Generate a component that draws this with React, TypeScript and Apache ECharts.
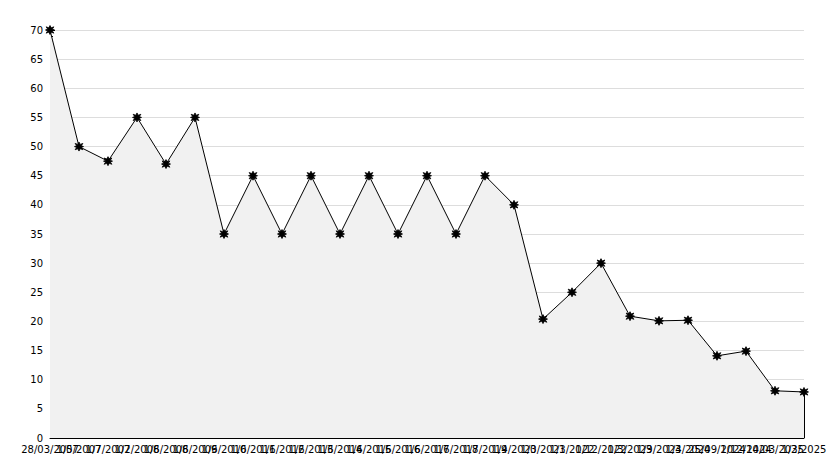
import React, { useEffect, useRef } from "react";
import * as echarts from "echarts";

const categories = [
  "28/03/2007", "1/5/2007", "1/7/2007", "1/2/2008", "1/6/2008", "1/6/2009",
  "1/6/2010", "1/6/2011", "1/6/2012", "1/6/2013", "1/6/2014", "1/6/2015",
  "1/6/2016", "1/6/2017", "1/6/2018", "1/7/2019", "1/4/2020", "1/3/2021",
  "1/3/2022", "1/12/2022", "1/3/2023", "1/9/2023", "1/4/2024", "25/09/2024",
  "1/12/2024", "14/03/2025", "1/3/2025",
];
const values = [
  70, 50, 47.5, 55, 47, 55, 35, 45, 35, 45, 35, 45, 35, 45, 35, 45, 40,
  20.4, 25, 30, 20.9, 20.1, 20.2, 14.1, 14.9, 8.1, 7.9,
];

const starPath =
  "path://M5,0 L6.4,2.6 L9.3,1.5 L7.6,4 L10,5 L7.6,6 L9.3,8.5 L6.4,7.4 L5,10 L3.6,7.4 L0.7,8.5 L2.4,6 L0,5 L2.4,4 L0.7,1.5 L3.6,2.6 Z";

export default function App() {
  const ref = useRef<HTMLDivElement>(null);
  useEffect(() => {
    if (!ref.current) return;
    const chart = echarts.init(ref.current, null, { renderer: "svg" });
    const lastIdx = categories.length - 1;
    chart.setOption({
      animation: false,
      backgroundColor: "#ffffff",
      textStyle: { fontFamily: "DejaVu Sans" },
      grid: { left: 50, right: 30, top: 30, bottom: 30, containLabel: false },
      xAxis: {
        type: "category",
        data: categories,
        boundaryGap: false,
        axisLine: { lineStyle: { color: "#000", width: 1 } },
        axisTick: { show: true, inside: true, length: 5, interval: 0, lineStyle: { color: "#000" } },
        axisLabel: { interval: 0, color: "#000", fontSize: 10, margin: 6, fontFamily: "DejaVu Sans" },
        splitLine: { show: false },
      },
      yAxis: {
        type: "value",
        min: 0,
        max: 70,
        interval: 5,
        axisLine: { show: true, lineStyle: { color: "#000", width: 1 } },
        axisTick: { show: true, inside: true, length: 5, lineStyle: { color: "#000" } },
        minorTick: { show: true, splitNumber: 5, length: 3, lineStyle: { color: "#000" } },
        axisLabel: { color: "#000", fontSize: 10, margin: 7, fontFamily: "DejaVu Sans" },
        splitLine: { show: true, lineStyle: { color: "#dddddd", width: 1 } },
      },
      series: [
        {
          type: "line",
          data: values,
          symbol: starPath,
          symbolSize: 9,
          itemStyle: { color: "#000", borderColor: "#000", borderWidth: 0.8 },
          lineStyle: { color: "#000", width: 1 },
          areaStyle: { color: "#f1f1f1", opacity: 1 },
          markLine: {
            silent: true,
            symbol: "none",
            label: { show: false },
            lineStyle: { color: "#000", width: 1, type: "solid" },
            data: [
              [
                { coord: [lastIdx, 0] },
                { coord: [lastIdx, values[lastIdx]] },
              ],
            ],
          },
        },
      ],
    });
    return () => chart.dispose();
  }, []);
  return <div ref={ref} style={{ width: 834, height: 468, position: "absolute", left: 0, top: 0 }} />;
}
